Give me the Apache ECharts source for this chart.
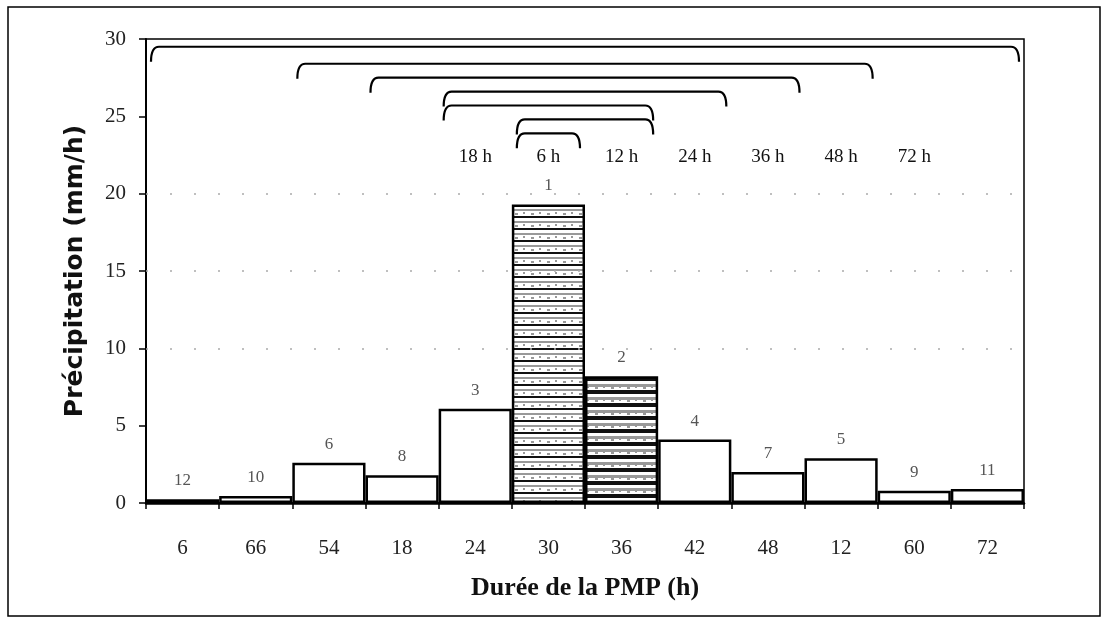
<!DOCTYPE html>
<html>
<head>
<meta charset="utf-8">
<script src="https://cdn.jsdelivr.net/npm/echarts@6/dist/echarts.min.js"></script>
<style>
  html, body { margin: 0; padding: 0; background: #fff; }
  #main { width: 1108px; height: 624px; }
</style>
</head>
<body>
<div id="main"></div>
<script>
const categories = ['6', '66', '54', '18', '24', '30', '36', '42', '48', '12', '60', '72'];
const values = [0.25, 0.45, 2.6, 1.8, 6.1, 19.3, 8.2, 4.1, 2.0, 2.9, 0.8, 0.9];
const ranks = ['12', '10', '6', '8', '3', '1', '2', '4', '7', '5', '9', '11'];
const yTicks = [0, 5, 10, 15, 20, 25, 30];

// nested duration brackets: start category, end category, level, label category
const durations = ['6 h', '12 h', '18 h', '24 h', '36 h', '48 h', '72 h'];
const bracketStart = [5, 5, 4, 4, 3, 2, 0];
const bracketEnd = [5, 6, 6, 7, 8, 9, 11];
const bracketLevel = [23.9, 24.8, 25.7, 26.6, 27.5, 28.4, 29.5];
const labelCat = [5, 6, 4, 7, 8, 9, 10];
const labelLevel = 22.4;

function stripes(period, dark, light) {
    const c = document.createElement('canvas');
    c.width = 16;
    c.height = period;
    const ctx = c.getContext('2d');
    ctx.fillStyle = '#fff';
    ctx.fillRect(0, 0, 16, period);
    ctx.fillStyle = '#111';
    ctx.fillRect(0, 0, 16, dark);
    ctx.fillStyle = '#999';
    ctx.fillRect(0, dark + 3, 16, light);
    ctx.fillRect(3, period - 3, 3, 2);
    ctx.fillRect(11, period - 4, 2, 2);
    return c;
}

const hatchA = { image: stripes(12, 2, 2), repeat: 'repeat' };
const hatchB = { image: stripes(13, 4, 3), repeat: 'repeat' };

const chart = echarts.init(document.getElementById('main'));

const barData = values.map((v, i) => {
    const item = { value: v };
    if (categories[i] === '30') item.itemStyle = { color: hatchA };
    if (categories[i] === '36') item.itemStyle = { color: hatchB };
    return item;
});

const bracketData = durations.map((d, i) => [bracketStart[i], bracketEnd[i], bracketLevel[i], labelCat[i], d]);

chart.setOption({
    animation: false,
    grid: {
        left: 146, right: 84, top: 39, bottom: 121,
        show: true, borderColor: '#000', borderWidth: 1.5, backgroundColor: 'transparent'
    },
    graphic: [{
        type: 'rect',
        shape: { x: 8, y: 7, width: 1092, height: 609 },
        style: { fill: 'none', stroke: '#000', lineWidth: 1.5 },
        silent: true
    }],
    xAxis: {
        type: 'category',
        data: categories,
        axisLine: { lineStyle: { color: '#000', width: 2.5 } },
        axisTick: { show: true, length: 6, lineStyle: { color: '#000', width: 1.5 } },
        axisLabel: { color: '#222', fontFamily: 'Liberation Serif', fontSize: 21, margin: 35 },
        name: 'Durée de la PMP (h)',
        nameLocation: 'middle',
        nameGap: 72,
        nameTextStyle: { color: '#111', fontFamily: 'Liberation Serif', fontWeight: 'bold', fontSize: 26 }
    },
    yAxis: {
        type: 'value',
        min: 0, max: 30, interval: 5,
        axisLine: { show: true, lineStyle: { color: '#000', width: 2 } },
        axisTick: { show: true, length: 7, lineStyle: { color: '#000', width: 1.5 } },
        axisLabel: {
            color: '#222', fontFamily: 'Liberation Serif', fontSize: 21, margin: 20,
            formatter: v => yTicks.includes(v) ? String(v) : ''
        },
        splitLine: { show: false },
        name: 'Précipitation (mm/h)',
        nameLocation: 'middle',
        nameGap: 58,
        nameTextStyle: { color: '#111', fontFamily: 'DejaVu Sans', fontWeight: 'bold', fontSize: 25 }
    },
    series: [{
        type: 'bar',
        data: barData,
        barWidth: '100%',
        barCategoryGap: 0,
        itemStyle: { color: '#fff', borderColor: '#000', borderWidth: 2.5 },
        label: {
            show: true, position: 'top', distance: 10,
            color: '#555', fontFamily: 'Liberation Serif', fontSize: 17,
            formatter: p => ranks[p.dataIndex]
        },
        markLine: {
            silent: true, symbol: 'none', label: { show: false },
            lineStyle: { type: [2, 22], color: '#aaa', width: 1.5 },
            data: [{ yAxis: 10 }, { yAxis: 15 }, { yAxis: 20 }]
        },
        z: 3
    }, {
        type: 'custom',
        data: bracketData,
        encode: { x: 0, y: 2 },
        z: 5,
        renderItem: function (params, api) {
            const bw = api.size([1, 0])[0];
            const a = api.coord([api.value(0), api.value(2)]);
            const b = api.coord([api.value(1), api.value(2)]);
            const t = api.coord([api.value(3), labelLevel]);
            const x0 = a[0] - bw / 2 + 5;
            const x1 = b[0] + bw / 2 - 5;
            const y = a[1];
            const h = 15;
            const path = 'M' + x0 + ',' + (y + h) +
                ' Q' + x0 + ',' + y + ' ' + (x0 + 8) + ',' + y +
                ' L' + (x1 - 8) + ',' + y +
                ' Q' + x1 + ',' + y + ' ' + x1 + ',' + (y + h);
            return {
                type: 'group',
                children: [{
                    type: 'path',
                    shape: { pathData: path },
                    style: { fill: 'none', stroke: '#000', lineWidth: 2.2 }
                }, {
                    type: 'text',
                    style: {
                        x: t[0], y: t[1], text: api.value(4),
                        align: 'center', verticalAlign: 'middle',
                        fill: '#111', font: '19px "Liberation Serif"'
                    }
                }]
            };
        }
    }]
});
</script>
</body>
</html>
